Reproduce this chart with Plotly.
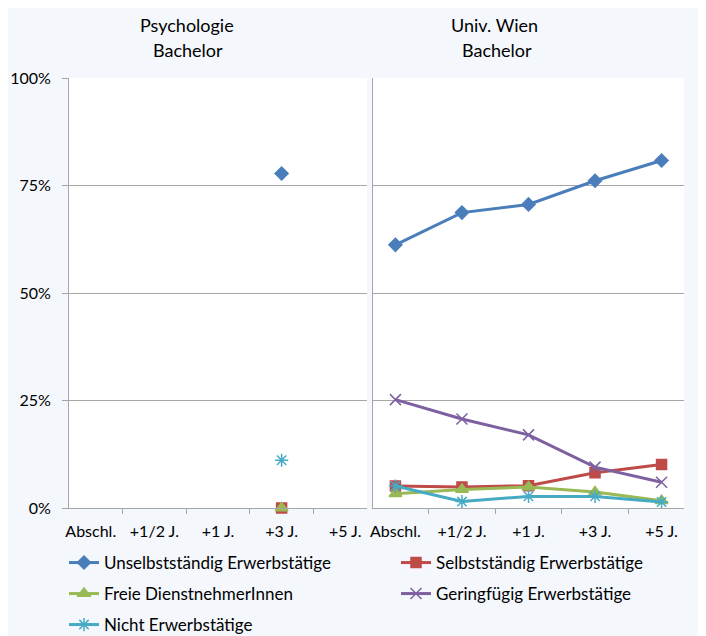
import plotly.graph_objects as go

categories = ["Abschl.", "+1/2 J.", "+1 J.", "+3 J.", "+5 J."]
series_names = ["Unselbstständig Erwerbstätige", "Selbstständig Erwerbstätige",
                "Freie DienstnehmerInnen", "Geringfügig Erwerbstätige", "Nicht Erwerbstätige"]
y_tick_vals = [0, 25, 50, 75, 100]
y_tick_text = ["0%", "25%", "50%", "75%", "100%"]

# Psychologie Bachelor (only +3 J. available)
psy_unselbst = [None, None, None, 77.8, None]
psy_selbst = [None, None, None, 0.0, None]
psy_freie = [None, None, None, 0.0, None]
psy_gering = [None, None, None, None, None]
psy_nicht = [None, None, None, 11.1, None]

# Univ. Wien Bachelor
uni_unselbst = [61.2, 68.7, 70.6, 76.1, 80.8]
uni_selbst = [5.1, 4.9, 5.2, 8.2, 10.1]
uni_freie = [3.3, 4.3, 4.9, 3.7, 1.7]
uni_gering = [25.2, 20.7, 17.0, 9.5, 6.0]
uni_nicht = [5.1, 1.5, 2.7, 2.7, 1.4]

colors = ["#4A7EBB", "#BE4B48", "#98B954", "#7D60A0", "#46AAC5"]
symbols = ["diamond", "square", "triangle-up", "x-thin-open", "asterisk-open"]
sizes = [10, 10, 11, 11, 11]

psy = [psy_unselbst, psy_selbst, psy_freie, psy_gering, psy_nicht]
uni = [uni_unselbst, uni_selbst, uni_freie, uni_gering, uni_nicht]
legend_ids = ["legend", "legend2", "legend3", "legend4", "legend5"]

FONT = "Lato"
OFF = 8  # page body margin
W, H = 706 - OFF, 636 - OFF
L, R, T, B = 69 - OFF, 22, 78 - OFF, 128
pw = W - L - R
ph = H - T - B

def px_x(x):
    # x in reference-image pixels
    return (x - OFF - L) / pw

def px_y(y):
    return (H - B - (y - OFF)) / ph

fig = go.Figure()

for i in range(5):
    fig.add_trace(go.Scatter(
        x=categories, y=psy[i], mode="lines+markers", name=series_names[i],
        xaxis="x", yaxis="y", showlegend=False, cliponaxis=False,
        line=dict(color=colors[i], width=3),
        marker=dict(symbol=symbols[i], size=sizes[i], color=colors[i],
                    line=dict(color=colors[i], width=1.5)),
        connectgaps=False,
    ))

for i in range(5):
    fig.add_trace(go.Scatter(
        x=categories, y=uni[i], mode="lines+markers", name=series_names[i],
        xaxis="x2", yaxis="y2", showlegend=True, legend=legend_ids[i], cliponaxis=False,
        line=dict(color=colors[i], width=3),
        marker=dict(symbol=symbols[i], size=sizes[i], color=colors[i],
                    line=dict(color=colors[i], width=1.5)),
    ))

grid = "#A6A6A6"
axis_common = dict(showline=True, linecolor=grid, linewidth=1, mirror=False)

xa = dict(type="category", categoryorder="array", categoryarray=categories,
          tickson="boundaries", ticks="outside", ticklen=5, tickcolor=grid,
          showgrid=False, tickfont=dict(family=FONT, size=16, color="#000"),
          ticklabelstandoff=9, zeroline=False, **axis_common)
ya = dict(range=[0, 100], tickmode="array", tickvals=y_tick_vals, ticktext=y_tick_text,
          showgrid=True, gridcolor=grid, gridwidth=1, zeroline=False,
          tickfont=dict(family=FONT, size=16, color="#000"), **axis_common)

left_dom = [0, px_x(367)]
right_dom = [px_x(373), 1]

fig.update_layout(
    width=W, height=H,
    margin=dict(l=L, r=R, t=T, b=B, autoexpand=False),
    paper_bgcolor="#F4F7FC",
    plot_bgcolor="rgba(0,0,0,0)",
    font=dict(family=FONT, size=16, color="#000"),
    xaxis=dict(domain=left_dom, anchor="y", **xa),
    yaxis=dict(domain=[0, 1], anchor="x", ticks="outside", ticklen=6, tickcolor=grid,
               ticklabelstandoff=8, **ya),
    xaxis2=dict(domain=right_dom, anchor="y2", **xa),
    yaxis2=dict(domain=[0, 1], anchor="x2", ticks="", showticklabels=False, **ya),
    shapes=[
        dict(type="rect", xref="paper", yref="paper", layer="below",
             x0=left_dom[0], x1=left_dom[1], y0=0, y1=1,
             fillcolor="white", line=dict(width=0)),
        dict(type="rect", xref="paper", yref="paper", layer="below",
             x0=right_dom[0], x1=right_dom[1], y0=0, y1=1,
             fillcolor="white", line=dict(width=0)),
    ],
    annotations=[
        dict(text="Psychologie", xref="paper", yref="paper",
             x=px_x(187), y=px_y(25), xanchor="center", yanchor="middle",
             showarrow=False, font=dict(family=FONT, size=18, color="#000")),
        dict(text="Bachelor", xref="paper", yref="paper",
             x=px_x(188), y=px_y(50), xanchor="center", yanchor="middle",
             showarrow=False, font=dict(family=FONT, size=18, color="#000")),
        dict(text="Univ. Wien", xref="paper", yref="paper",
             x=px_x(495), y=px_y(25), xanchor="center", yanchor="middle",
             showarrow=False, font=dict(family=FONT, size=18, color="#000")),
        dict(text="Bachelor", xref="paper", yref="paper",
             x=px_x(497), y=px_y(50), xanchor="center", yanchor="middle",
             showarrow=False, font=dict(family=FONT, size=18, color="#000")),
    ],
)

leg_pos = [(64, 563), (396, 563), (64, 594), (396, 594), (64, 625)]
for lid, (lx, ly) in zip(legend_ids, leg_pos):
    fig.update_layout({lid: dict(
        x=px_x(lx), y=px_y(ly), xanchor="left", yanchor="middle",
        orientation="h", bgcolor="rgba(0,0,0,0)", borderwidth=0,
        font=dict(family=FONT, size=17, color="#000"),
    )})

fig.write_html("out.html")
